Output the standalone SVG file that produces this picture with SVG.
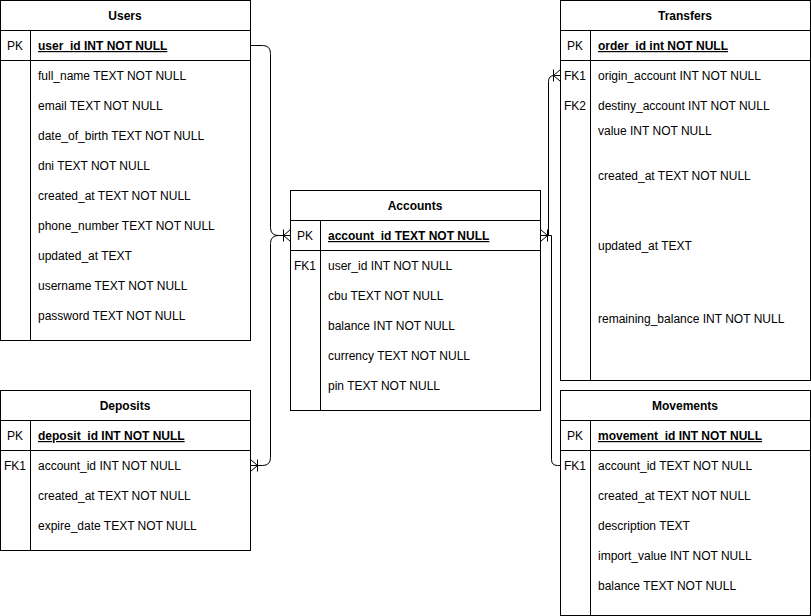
<svg xmlns="http://www.w3.org/2000/svg" width="811" height="616" viewBox="0 0 811 616">
<style>
.box{fill:#fff;stroke:#000;stroke-width:1}
.ln{stroke:#000;stroke-width:1;fill:none}
text{font-family:"Liberation Sans",Arial,sans-serif;font-size:12px;fill:#000}
.t{font-weight:bold;text-anchor:middle}
.k{text-anchor:middle}
.pk{font-weight:bold;text-decoration:underline}
.e{stroke:#000;stroke-width:1;fill:none}
</style>
<rect width="811" height="616" fill="#fff"/>
<g id="users">
<rect class="box" x="0.5" y="0.5" width="250" height="340"/>
<path class="ln" d="M0.5 30.5H250.5M0.5 60.5H250.5M30.5 30.5V340.5"/>
<text class="t" x="125" y="20">Users</text>
<text class="k" x="15" y="50">PK</text>
<text class="pk" x="38" y="50">user_id INT NOT NULL</text>
<text x="38" y="80">full_name TEXT NOT NULL</text>
<text x="38" y="110">email TEXT NOT NULL</text>
<text x="38" y="140">date_of_birth TEXT NOT NULL</text>
<text x="38" y="170">dni TEXT NOT NULL</text>
<text x="38" y="200">created_at TEXT NOT NULL</text>
<text x="38" y="230">phone_number TEXT NOT NULL</text>
<text x="38" y="260">updated_at TEXT</text>
<text x="38" y="290">username TEXT NOT NULL</text>
<text x="38" y="320">password TEXT NOT NULL</text>
</g>
<g id="deposits">
<rect class="box" x="0.5" y="390.5" width="250" height="160"/>
<path class="ln" d="M0.5 420.5H250.5M0.5 450.5H250.5M30.5 420.5V550.5"/>
<text class="t" x="125" y="410">Deposits</text>
<text class="k" x="15" y="440">PK</text>
<text class="pk" x="38" y="440">deposit_id INT NOT NULL</text>
<text class="k" x="15" y="470">FK1</text>
<text x="38" y="470">account_id INT NOT NULL</text>
<text x="38" y="500">created_at TEXT NOT NULL</text>
<text x="38" y="530">expire_date TEXT NOT NULL</text>
</g>
<g id="accounts">
<rect class="box" x="290.5" y="190.5" width="250" height="220"/>
<path class="ln" d="M290.5 220.5H540.5M290.5 250.5H540.5M320.5 220.5V410.5"/>
<text class="t" x="415" y="210">Accounts</text>
<text class="k" x="305" y="240">PK</text>
<text class="pk" x="328" y="240">account_id TEXT NOT NULL</text>
<text class="k" x="305" y="270">FK1</text>
<text x="328" y="270">user_id INT NOT NULL</text>
<text x="328" y="300">cbu TEXT NOT NULL</text>
<text x="328" y="330">balance INT NOT NULL</text>
<text x="328" y="360">currency TEXT NOT NULL</text>
<text x="328" y="390">pin TEXT NOT NULL</text>
</g>
<g id="transfers">
<rect class="box" x="560.5" y="0.5" width="250" height="380"/>
<path class="ln" d="M560.5 30.5H810.5M560.5 60.5H810.5M590.5 30.5V380.5"/>
<text class="t" x="685" y="20">Transfers</text>
<text class="k" x="575" y="50">PK</text>
<text class="pk" x="598" y="50">order_id int NOT NULL</text>
<text class="k" x="575" y="80">FK1</text>
<text x="598" y="80">origin_account INT NOT NULL</text>
<text class="k" x="575" y="110">FK2</text>
<text x="598" y="110">destiny_account INT NOT NULL</text>
<text x="598" y="135">value INT NOT NULL</text>
<text x="598" y="180">created_at TEXT NOT NULL</text>
<text x="598" y="250">updated_at TEXT</text>
<text x="598" y="323">remaining_balance INT NOT NULL</text>
</g>
<g id="movements">
<rect class="box" x="560.5" y="390.5" width="250" height="225"/>
<path class="ln" d="M560.5 420.5H810.5M560.5 450.5H810.5M590.5 420.5V615.5"/>
<text class="t" x="685" y="410">Movements</text>
<text class="k" x="575" y="440">PK</text>
<text class="pk" x="598" y="440">movement_id INT NOT NULL</text>
<text class="k" x="575" y="470">FK1</text>
<text x="598" y="470">account_id TEXT NOT NULL</text>
<text x="598" y="500">created_at TEXT NOT NULL</text>
<text x="598" y="530">description TEXT</text>
<text x="598" y="560">import_value INT NOT NULL</text>
<text x="598" y="590">balance TEXT NOT NULL</text>
</g>
<g id="connectors">
<path class="e" d="M250.5 45.5H262.5Q270.5 45.5 270.5 53.5V227.5Q270.5 235.5 278.5 235.5H290.5"/>
<path class="e" d="M250.5 465.5H262.5Q270.5 465.5 270.5 457.5V243.5Q270.5 235.5 278.5 235.5"/>
<path class="e" d="M283.5 229.5V241.5M290.5 229.5L283.5 235.5L290.5 241.5"/>
<path class="e" d="M257.5 459.5V471.5M250.5 459.5L257.5 465.5L250.5 471.5"/>
<path class="e" d="M540.5 235.5H548.5V81.5Q548.5 75.5 554.5 75.5H560.5"/>
<path class="e" d="M540.5 235.5H551.5V459.5Q551.5 465.5 557.5 465.5H560.5"/>
<path class="e" d="M547.5 229.5V241.5M540.5 229.5L547.5 235.5L540.5 241.5"/>
<path class="e" d="M553.5 69.5V81.5M560.5 69.5L553.5 75.5L560.5 81.5"/>
</g>
</svg>
